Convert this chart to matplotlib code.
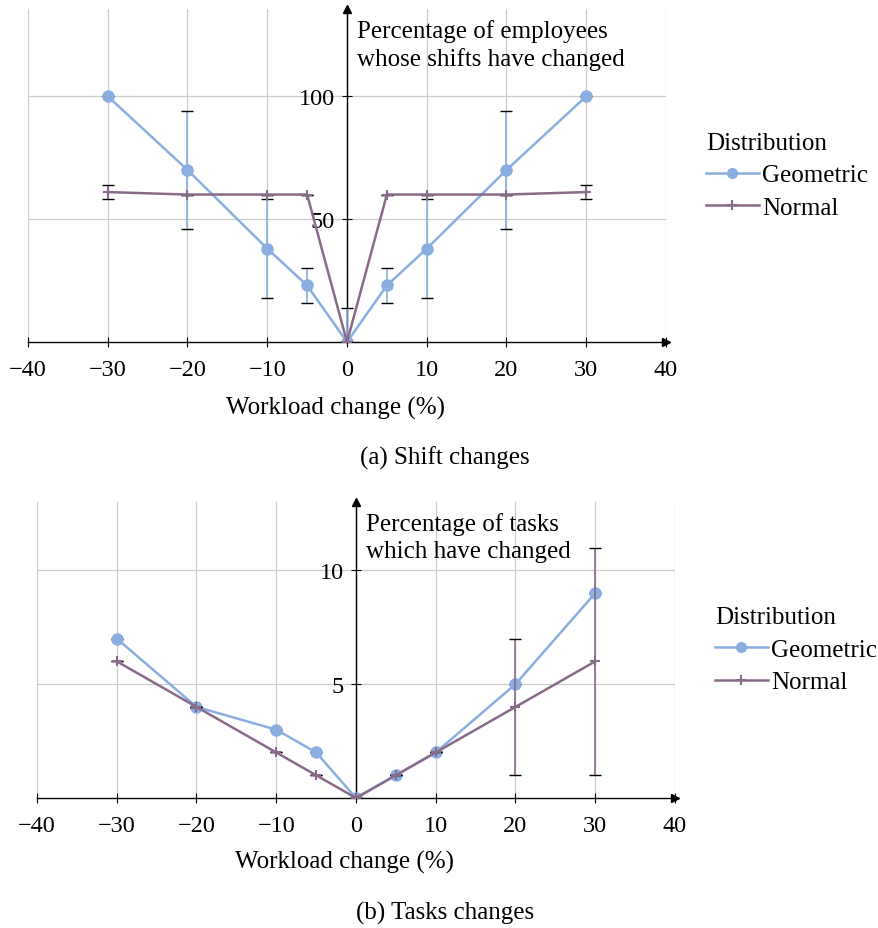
import matplotlib.pyplot as plt
from matplotlib.lines import Line2D

plt.rcParams['font.family'] = ['Liberation Serif', 'DejaVu Serif']
plt.rcParams['font.size'] = 18
plt.rcParams['axes.unicode_minus'] = True

workload = [-30, -20, -10, -5, 0, 5, 10, 20, 30]

# (a) shift changes
shift_geo = [100, 70, 38, 23, 0, 23, 38, 70, 100]
shift_geo_err = [0, 24, 20, 7, 14, 7, 20, 24, 0]
shift_norm = [61, 60, 60, 60, 0, 60, 60, 60, 61]
shift_norm_err = [3, 0, 0, 0, 0, 0, 0, 0, 3]

# (b) task changes
task_geo = [7, 4, 3, 2, 0, 1, 2, 5, 9]
task_geo_err = [0, 0, 0, 0, 0, 0, 0, 0, 0]
task_norm = [6, 4, 2, 1, 0, 1, 2, 4, 6]
task_norm_err = [0, 0, 0, 0, 0, 0, 0, 3, 5]

blue = '#8aaee0'
purple = '#876b88'

fig = plt.figure(figsize=(8.79, 9.29), dpi=100)
W, H = 879, 929


def panel(rect, geo, geo_err, norm, norm_err, ymax, yticks, ylabel, caption, cap_y, xlabel_y):
    l, t, r, b = rect
    ax = fig.add_axes([l / W, 1 - b / H, (r - l) / W, (b - t) / H])
    ax.set_xlim(-40, 40)
    ax.set_ylim(0, ymax)
    ax.set_xticks(range(-40, 41, 10))
    ax.set_yticks(yticks)
    ax.grid(True, color='#cccccc', linewidth=0.9)
    ax.set_axisbelow(True)
    for s in ['top', 'right']:
        ax.spines[s].set_visible(False)
    ax.spines['left'].set_position(('data', 0))
    ax.spines['left'].set_linewidth(1.0)
    ax.spines['bottom'].set_linewidth(1.0)
    ax.tick_params(direction='inout', length=7, width=0.8, labelsize=17.5)
    ax.tick_params(axis='x', pad=9)
    ax.tick_params(axis='y', pad=5)
    ax.plot(1, 0, '>k', markersize=6, transform=ax.get_yaxis_transform(), clip_on=False)
    ax.plot(0, 1, '^k', markersize=6, transform=ax.get_xaxis_transform(), clip_on=False)

    eg = ax.errorbar(workload, geo, yerr=geo_err, color=blue, lw=1.8, marker='o',
                     markersize=8, ecolor=blue, elinewidth=1.2, capsize=4, zorder=3)
    for c in eg[1]:
        c.set_markeredgecolor('black')
        c.set_markeredgewidth(1.0)
    en = ax.errorbar(workload, norm, yerr=norm_err, color=purple, lw=1.8, marker='+',
                     markersize=7, mew=1.5, ecolor=purple, elinewidth=1.2, capsize=4, zorder=4)
    for c in en[1]:
        c.set_markeredgecolor('black')
        c.set_markeredgewidth(1.0)

    # axis title next to the arrow of the y axis
    fig.text(((l + r) / 2 + 10) / W, 1 - (t + 10) / H, ylabel, va='top', ha='left',
             fontsize=18, linespacing=1.3)

    handles = [Line2D([], [], color=blue, lw=1.8, marker='o', markersize=7),
               Line2D([], [], color=purple, lw=1.8, marker='+', markersize=7, mew=1.5)]
    ax.legend(handles, ['Geometric', 'Normal'], title='Distribution', loc='center left',
              bbox_to_anchor=(1.063, 0.5), frameon=False, fontsize=18, title_fontsize=18,
              handlelength=2.1, handletextpad=0.15, borderpad=0, borderaxespad=0,
              labelspacing=0.4, alignment='left')

    fig.text((l + r) / 2 / W - 11 / W, 1 - xlabel_y / H, 'Workload change (%)',
             ha='center', va='center', fontsize=18)
    fig.text(445 / W, 1 - cap_y / H, caption, ha='center', va='center', fontsize=18)
    return ax


ax_a = panel((28, 10, 666, 343), shift_geo, shift_geo_err, shift_norm, shift_norm_err, 135.5,
             [50, 100], 'Percentage of employees\nwhose shifts have changed',
             '(a) Shift changes', 458, 408)
ax_b = panel((37, 503, 675, 799), task_geo, task_geo_err, task_norm, task_norm_err, 13.0,
             [5, 10], 'Percentage of tasks\nwhich have changed', '(b) Tasks changes', 913, 862)

fig.savefig('out.png', dpi=100)
